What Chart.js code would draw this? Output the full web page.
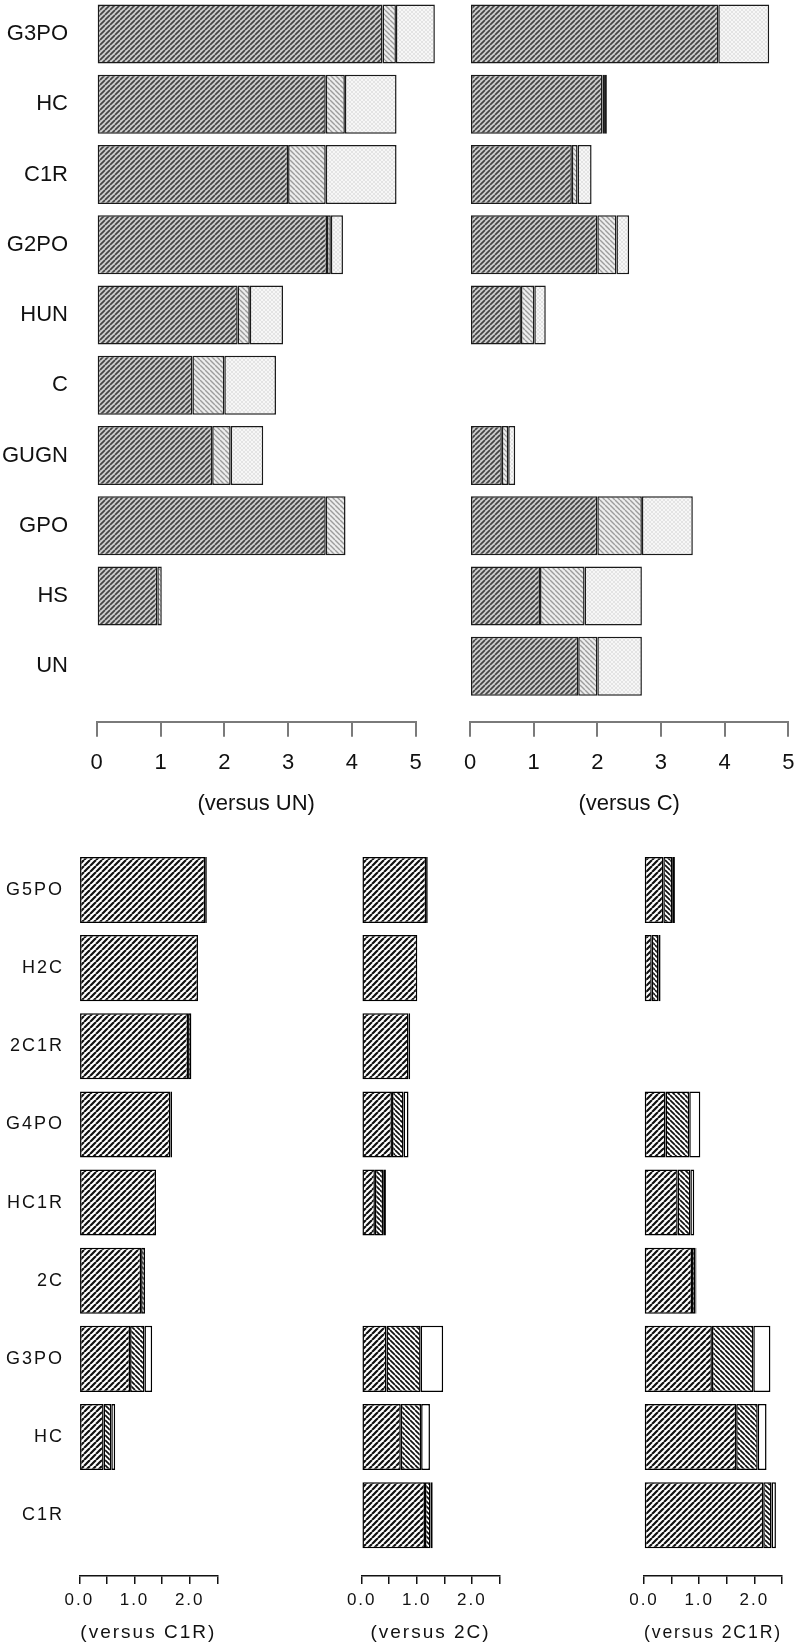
<!DOCTYPE html>
<html>
<head>
<meta charset="utf-8">
<script src="https://cdn.jsdelivr.net/npm/chart.js@4.4.1/dist/chart.umd.min.js"></script>
<style>
html,body{margin:0;padding:0;background:#fff;}
body{width:796px;height:1648px;position:relative;overflow:hidden;}
canvas{position:absolute;}
</style>
</head>
<body>
<canvas id="tl" style="left:0px;top:-20px" width="440" height="850"></canvas>
<canvas id="tr" style="left:440px;top:-20px" width="356" height="850"></canvas>
<canvas id="bl" style="left:0px;top:830px" width="265" height="818"></canvas>
<canvas id="bm" style="left:300px;top:830px" width="250" height="818"></canvas>
<canvas id="br" style="left:580px;top:830px" width="216" height="818"></canvas>
<script>
// ---------- data ----------
const topCategories = ['G3PO','HC','C1R','G2PO','HUN','C','GUGN','GPO','HS','UN'];
const vsUN_dark  = [4.48, 3.59, 3.00, 3.61, 2.21, 1.50, 1.81, 3.59, 0.95, 0];
const vsUN_mid   = [0.21, 0.30, 0.59, 0.06, 0.19, 0.50, 0.29, 0.31, 0.07, 0];
const vsUN_light = [0.61, 0.81, 1.11, 0.19, 0.52, 0.81, 0.51, 0,    0,    0];
const vsC_dark   = [3.90, 2.08, 1.60, 2.00, 0.80, 0,    0.50, 2.00, 1.10, 1.70];
const vsC_mid    = [0,    0.04, 0.09, 0.30, 0.21, 0,    0.10, 0.70, 0.70, 0.30];
const vsC_light  = [0.80, 0.03, 0.22, 0.20, 0.18, 0,    0.11, 0.80, 0.90, 0.70];

const bottomCategories = ['G5PO','H2C','2C1R','G4PO','HC1R','2C','G3PO','HC','C1R'];
const vsC1R_dark   = [2.28, 2.15, 1.97, 1.65, 1.39, 1.12, 0.92, 0.44, 0];
const vsC1R_mid    = [0.03, 0,    0.06, 0.03, 0,    0.07, 0.26, 0.14, 0];
const vsC1R_light  = [0,    0,    0,    0,    0,    0,    0.14, 0.07, 0];
const vs2C_dark    = [1.17, 1.01, 0.85, 0.55, 0.24, 0,    0.45, 0.71, 1.15];
const vs2C_mid     = [0.03, 0,    0.03, 0.21, 0.15, 0,    0.62, 0.37, 0.10];
const vs2C_light   = [0,    0,    0,    0.09, 0.05, 0,    0.41, 0.16, 0.04];
const vs2C1R_dark  = [0.35, 0.14, 0,    0.39, 0.61, 0.87, 1.23, 1.67, 2.16];
const vs2C1R_mid   = [0.16, 0.12, 0,    0.43, 0.23, 0.06, 0.75, 0.39, 0.15];
const vs2C1R_light = [0.05, 0.04, 0,    0.20, 0.07, 0.02, 0.31, 0.16, 0.08];

const topTickValues = [0, 1, 2, 3, 4, 5];
const topTickLabels = ['0', '1', '2', '3', '4', '5'];
const bottomTickValues = [0, 0.5, 1, 1.5, 2, 2.5];
const bottomTickLabels = ['0.0', '', '1.0', '', '2.0', ''];

// ---------- patterns ----------
function hatch(size, bg, fg, lw, dir) {
  const c = document.createElement('canvas');
  c.width = c.height = size;
  const x = c.getContext('2d');
  x.fillStyle = bg; x.fillRect(0, 0, size, size);
  x.strokeStyle = fg; x.lineWidth = lw; x.beginPath();
  if (dir > 0) {
    for (let k = -1; k <= 1; k++) { x.moveTo(k*size, size); x.lineTo(k*size + size, 0); }
  } else {
    for (let k = -1; k <= 1; k++) { x.moveTo(k*size, 0); x.lineTo(k*size + size, size); }
  }
  x.stroke();
  return x.createPattern(c, 'repeat');
}
function cross(size, bg, fg, lw) {
  const c = document.createElement('canvas');
  c.width = c.height = size;
  const x = c.getContext('2d');
  x.fillStyle = bg; x.fillRect(0, 0, size, size);
  x.strokeStyle = fg; x.lineWidth = lw; x.beginPath();
  for (let k = -1; k <= 1; k++) {
    x.moveTo(k*size, size); x.lineTo(k*size + size, 0);
    x.moveTo(k*size, 0); x.lineTo(k*size + size, size);
  }
  x.stroke();
  return x.createPattern(c, 'repeat');
}
const topPats = [hatch(5, '#cccccc', '#444444', 1.7, 1), hatch(5, '#ededed', '#9c9c9c', 1.4, -1), cross(4, '#f7f7f7', '#dedede', 0.8)];
const botPats = [hatch(6, '#ffffff', '#111111', 2.2, 1), hatch(5, '#ffffff', '#111111', 1.7, -1), '#ffffff'];

Chart.defaults.font.family = "'Liberation Sans', Arial, Helvetica, sans-serif";

function spacingPlugin(sp) {
  return {
    id: 'letterSpacing',
    beforeLayout(c) { c.ctx.letterSpacing = sp; },
    beforeDraw(c) { c.ctx.letterSpacing = sp; }
  };
}

function build(s) {
  const mk = (vals, pat) => ({
    data: vals.map((v, i) => ({x: v, y: i})),
    backgroundColor: pat,
    borderColor: s.border,
    borderWidth: 1.5,
    borderSkipped: false,
    inflateAmount: 0,
    barPercentage: s.barPct,
    categoryPercentage: 1,
    clip: false
  });
  new Chart(document.getElementById(s.id), {
    type: 'bar',
    data: { datasets: [mk(s.series[0], s.pats[0]), mk(s.series[1], s.pats[1]), mk(s.series[2], s.pats[2])] },
    plugins: s.spacing ? [spacingPlugin(s.spacing)] : [],
    options: {
      indexAxis: 'y',
      responsive: false,
      animation: false,
      devicePixelRatio: 1,
      layout: { padding: { top: s.padTop, left: s.padLeft, right: s.padRight, bottom: 0 } },
      plugins: { legend: { display: false }, tooltip: { enabled: false } },
      scales: {
        x: {
          type: 'linear', min: s.xmin, max: s.xmax, stacked: true, offset: false,
          afterBuildTicks: sc => { sc.ticks = s.tickValues.map(v => ({ value: v })); },
          afterFit: sc => { sc.height = s.xH; },
          border: { display: true, color: s.axisColor, width: s.axisW },
          grid: { drawOnChartArea: false, drawTicks: true, tickLength: s.tickLen, color: s.axisColor, tickWidth: s.axisW, lineWidth: s.axisW, offset: false },
          ticks: { padding: 0, autoSkip: false, maxRotation: 0, color: '#111',
                   font: { size: s.tickFont, lineHeight: s.tickLH },
                   callback: (v, i) => s.tickLabels[i] },
          title: { display: true, text: s.title, color: '#111', font: { size: s.titleFont, lineHeight: 1.2 },
                   padding: { top: 0, bottom: s.titlePB } }
        },
        y: {
          type: 'linear', reverse: true, min: -0.5, max: s.ymax, stacked: true, display: s.showY, offset: false,
          afterBuildTicks: sc => { sc.ticks = s.cats.map((c, i) => ({ value: i })); },
          afterFit: sc => { sc.width = s.yW; },
          border: { display: false },
          grid: { display: true, offset: false, drawOnChartArea: false, drawTicks: true, tickLength: s.yGap, color: 'rgba(0,0,0,0)' },
          ticks: { padding: 0, autoSkip: false, color: '#111', font: { size: s.catFont },
                   callback: (v, i) => s.cats[i] }
        }
      }
    }
  });
}

const topCommon = {
  cats: topCategories, pats: topPats, border: '#1a1a1a', barPct: 0.84,
  xmin: 0, xmax: 5, tickValues: topTickValues, tickLabels: topTickLabels,
  padTop: 18.9, xH: 108.3, ymax: 9.789,
  axisColor: '#7a7a7a', axisW: 2, tickLen: 15,
  tickFont: 22, tickLH: 2.39, titleFont: 22, titlePB: 12.8, catFont: 22
};
build(Object.assign({}, topCommon, {
  id: 'tl', series: [vsUN_dark, vsUN_mid, vsUN_light], title: '(versus UN)',
  padLeft: 0, padRight: 24.3, showY: true, yW: 96.7, yGap: 28.7
}));
build(Object.assign({}, topCommon, {
  id: 'tr', series: [vsC_dark, vsC_mid, vsC_light], title: '(versus C)',
  padLeft: 30, padRight: 7.7, showY: false, yW: 0, yGap: 0
}));

const botCommon = {
  cats: bottomCategories, pats: botPats, border: '#000', barPct: 0.845,
  xmin: 0, xmax: 2.5, tickValues: bottomTickValues, tickLabels: bottomTickLabels,
  padTop: 20.9, xH: 72, ymax: 8.778,
  axisColor: '#111', axisW: 1.5, tickLen: 8,
  tickFont: 17, tickLH: 1.96, titleFont: 19, titlePB: 3.6, catFont: 18, spacing: '2px'
};
build(Object.assign({}, botCommon, {
  id: 'bl', series: [vsC1R_dark, vsC1R_mid, vsC1R_light], title: '(versus C1R)',
  padLeft: 0, padRight: 47.7, showY: true, yW: 79.3, yGap: 15.3
}));
build(Object.assign({}, botCommon, {
  id: 'bm', series: [vs2C_dark, vs2C_mid, vs2C_light], title: '(versus 2C)',
  padLeft: 61.7, padRight: 50.7, showY: false, yW: 0, yGap: 0
}));
build(Object.assign({}, botCommon, {
  id: 'br', series: [vs2C1R_dark, vs2C1R_mid, vs2C1R_light], title: '(versus 2C1R)',
  padLeft: 64, padRight: 14, showY: false, yW: 0, yGap: 0
}));
</script>
</body>
</html>
